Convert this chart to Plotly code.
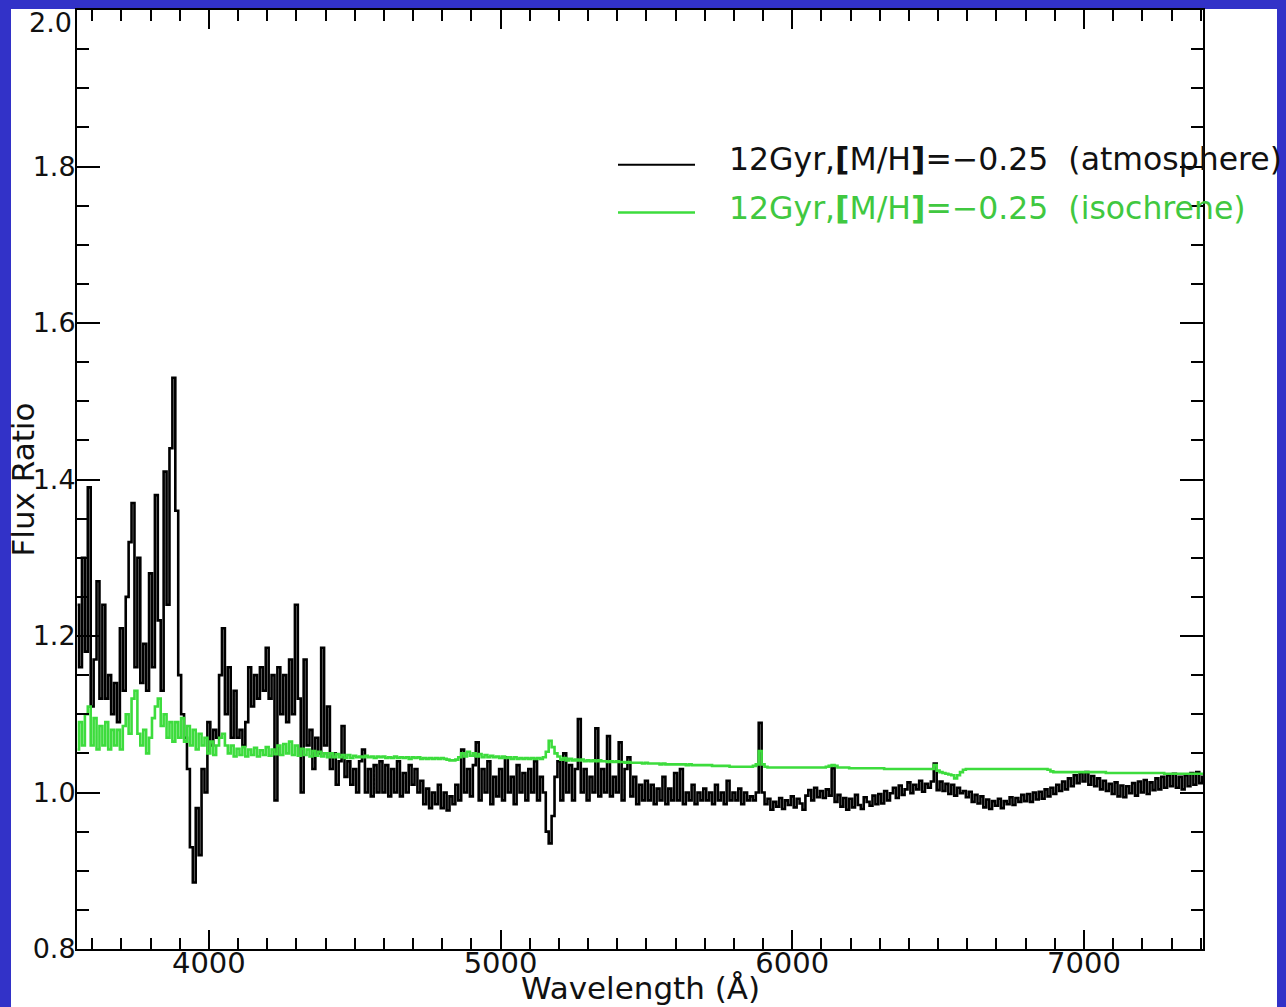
import numpy as np
import plotly.graph_objects as go

# Sampling grid of both spectra (Angstrom)
WAVE_START = 3550
WAVE_STEP = 10

# Flux ratio, 12 Gyr [M/H]=-0.25, atmosphere-based model
flux_atmosphere = [
    1.24, 1.16, 1.30, 1.18, 1.39,                                   # 3550-3590
    1.11, 1.17, 1.27, 1.12, 1.24, 1.12, 1.15, 1.10, 1.14, 1.09,     # 3600
    1.21, 1.13, 1.25, 1.32, 1.37, 1.16, 1.30, 1.14, 1.19, 1.13,     # 3700
    1.28, 1.16, 1.38, 1.22, 1.13, 1.41, 1.24, 1.44, 1.53, 1.36,     # 3800
    1.15, 1.10, 1.07, 1.03, 0.93, 0.885, 0.98, 0.92, 1.03, 1.00,    # 3900
    1.09, 1.06, 1.08, 1.07, 1.15, 1.21, 1.10, 1.16, 1.07, 1.13,     # 4000
    1.07, 1.08, 1.06, 1.09, 1.16, 1.11, 1.15, 1.12, 1.16, 1.13,     # 4100
    1.185, 1.12, 1.15, 0.99, 1.16, 1.10, 1.15, 1.09, 1.17, 1.10,    # 4200
    1.24, 1.12, 1.00, 1.17, 1.06, 1.08, 1.03, 1.07, 1.05, 1.185,    # 4300
    1.06, 1.11, 1.03, 1.05, 1.01, 1.04, 1.085, 1.02, 1.04, 1.01,    # 4400
    1.03, 1.00, 1.04, 1.055, 1.00, 1.03, 0.995, 1.035, 1.00, 1.04,  # 4500
    1.00, 1.035, 0.995, 1.03, 1.00, 1.04, 0.995, 1.025, 1.00, 1.035,  # 4600
    1.01, 1.03, 1.00, 1.015, 0.985, 1.005, 0.98, 1.00, 0.985, 1.01,   # 4700
    0.98, 1.00, 0.977, 0.995, 0.985, 1.01, 0.99, 1.055, 1.00, 1.03,   # 4800
    0.995, 1.035, 1.064, 0.99, 1.03, 1.00, 1.04, 0.985, 1.02, 0.995,  # 4900
    1.03, 0.99, 1.045, 1.00, 1.02, 0.985, 1.035, 1.00, 1.025, 0.99,   # 5000
    1.03, 1.00, 1.04, 0.99, 1.02, 1.00, 0.95, 0.935, 0.97, 1.02,      # 5100
    1.04, 0.99, 1.05, 1.00, 1.035, 0.99, 1.03, 1.094, 1.00, 1.03,     # 5200
    0.99, 1.02, 1.00, 1.082, 0.995, 1.03, 1.00, 1.072, 0.995, 1.02,   # 5300
    1.00, 1.064, 0.99, 1.03, 1.045, 0.995, 1.02, 0.985, 1.01, 0.99,   # 5400
    1.015, 0.99, 1.01, 0.985, 1.005, 0.99, 1.02, 0.985, 1.005, 0.99,  # 5500
    1.025, 0.99, 1.03, 0.985, 1.00, 0.99, 1.01, 0.985, 1.00, 0.99,    # 5600
    1.005, 0.99, 1.00, 0.985, 1.01, 0.99, 1.00, 0.985, 1.015, 0.99,   # 5700
    1.00, 0.99, 1.005, 0.985, 1.00, 0.99, 0.995, 0.99, 1.00, 1.089,   # 5800
    1.00, 0.985, 0.992, 0.978, 0.988, 0.982, 0.993, 0.979, 0.99, 0.984,    # 5900
    0.995, 0.981, 0.992, 0.986, 0.978, 0.996, 1.003, 0.99, 1.006, 0.994,   # 6000
    1.002, 0.993, 1.004, 0.996, 1.031, 0.988, 0.997, 0.982, 0.993, 0.978,  # 6100
    0.992, 0.981, 0.997, 0.984, 0.979, 0.994, 0.988, 0.983, 0.996, 0.985,  # 6200
    0.998, 0.986, 1.002, 0.99, 0.999, 1.006, 0.993, 1.009, 0.997, 1.004,   # 6300
    1.013, 0.999, 1.01, 1.004, 1.015, 1.001, 1.011, 1.006, 1.014, 1.037,   # 6400
    1.003, 1.014, 1.002, 1.011, 0.998, 1.01, 0.996, 1.006, 0.999, 1.002,   # 6500
    0.994, 1.001, 0.988, 0.997, 0.986, 0.995, 0.981, 0.991, 0.979, 0.989,  # 6600
    0.983, 0.992, 0.98, 0.989, 0.985, 0.994, 0.984, 0.993, 0.988, 0.997,   # 6700
    0.989, 0.998, 0.988, 1.00, 0.991, 1.001, 0.992, 1.004, 0.995, 1.006,   # 6800
    0.998, 1.01, 1.002, 1.014, 1.004, 1.018, 1.008, 1.022, 1.012, 1.025,   # 6900
    1.014, 1.026, 1.01, 1.021, 1.008, 1.018, 1.004, 1.015, 1.002, 1.011,   # 7000
    0.998, 1.013, 0.995, 1.009, 0.994, 1.008, 0.999, 1.012, 0.996, 1.014,  # 7100
    1.00, 1.016, 0.998, 1.013, 1.003, 1.018, 1.004, 1.02, 1.006, 1.022,    # 7200
    1.008, 1.024, 1.006, 1.02, 1.004, 1.022, 1.008, 1.025, 1.01, 1.026,    # 7300
    1.012, 1.02,                                                           # 7400-7410
]

# Flux ratio, 12 Gyr [M/H]=-0.25, isochrone-based model
flux_isochrone = [
    1.055, 1.09, 1.06, 1.10, 1.11,                                       # 3550-3590
    1.06, 1.095, 1.055, 1.085, 1.06, 1.09, 1.055, 1.08, 1.06, 1.08,      # 3600
    1.055, 1.085, 1.10, 1.075, 1.12, 1.13, 1.075, 1.06, 1.08, 1.05,      # 3700
    1.07, 1.095, 1.11, 1.12, 1.085, 1.10, 1.07, 1.09, 1.065, 1.09,       # 3800
    1.07, 1.095, 1.065, 1.085, 1.06, 1.08, 1.055, 1.075, 1.06, 1.07,     # 3900
    1.05, 1.065, 1.048, 1.06, 1.07, 1.075, 1.06, 1.05, 1.06, 1.046,      # 4000
    1.056, 1.048, 1.058, 1.046, 1.055, 1.048, 1.057, 1.046, 1.054, 1.048,  # 4100
    1.058, 1.047, 1.055, 1.049, 1.06, 1.048, 1.062, 1.05, 1.065, 1.048,  # 4200
    1.06, 1.047, 1.056, 1.048, 1.055, 1.046, 1.053, 1.047, 1.052, 1.046,  # 4300
    1.05, 1.045, 1.05, 1.045, 1.049, 1.045, 1.048, 1.044, 1.048, 1.044,  # 4400
    1.047, 1.045, 1.046, 1.045, 1.047, 1.045, 1.046, 1.044, 1.046, 1.045,  # 4500
    1.046, 1.044, 1.045, 1.044, 1.046, 1.044, 1.045, 1.044, 1.045, 1.043,  # 4600
    1.045, 1.044, 1.045, 1.043, 1.044, 1.043, 1.044, 1.043, 1.044, 1.043,  # 4700
    1.044, 1.043, 1.042, 1.041, 1.041, 1.042, 1.045, 1.050, 1.046, 1.052,  # 4800
    1.047, 1.050, 1.046, 1.049, 1.045, 1.048, 1.045, 1.047, 1.045, 1.046,  # 4900
    1.044, 1.046, 1.044, 1.045, 1.043, 1.045, 1.043, 1.044, 1.043, 1.044,  # 5000
    1.043, 1.044, 1.043, 1.044, 1.043, 1.045, 1.052, 1.066, 1.058, 1.050,  # 5100
    1.046, 1.042, 1.044, 1.041, 1.043, 1.041, 1.042, 1.041, 1.042, 1.040,  # 5200
    1.041, 1.040, 1.041, 1.040, 1.041, 1.040, 1.040, 1.039, 1.040, 1.039,  # 5300
    1.040, 1.039, 1.039, 1.038, 1.039, 1.038, 1.038, 1.038, 1.038, 1.037,  # 5400
    1.038, 1.037, 1.037, 1.037, 1.037, 1.036, 1.037, 1.036, 1.036, 1.036,  # 5500
    1.036, 1.036, 1.036, 1.036, 1.035, 1.036, 1.035, 1.035, 1.035, 1.035,  # 5600
    1.035, 1.035, 1.035, 1.034, 1.034, 1.034, 1.034, 1.034, 1.034, 1.033,  # 5700
    1.033, 1.033, 1.033, 1.033, 1.033, 1.033, 1.033, 1.034, 1.036, 1.053,  # 5800
    1.036, 1.033, 1.032, 1.032, 1.032, 1.032, 1.032, 1.032, 1.032, 1.032,  # 5900
    1.032, 1.032, 1.032, 1.032, 1.032, 1.032, 1.032, 1.032, 1.032, 1.032,  # 6000
    1.032, 1.032, 1.033, 1.034, 1.035, 1.034, 1.032, 1.032, 1.032, 1.032,  # 6100
    1.031, 1.031, 1.031, 1.031, 1.031, 1.031, 1.031, 1.031, 1.031, 1.031,  # 6200
    1.031, 1.031, 1.030, 1.030, 1.030, 1.030, 1.030, 1.030, 1.030, 1.030,  # 6300
    1.030, 1.030, 1.030, 1.030, 1.030, 1.030, 1.030, 1.030, 1.030, 1.035,  # 6400
    1.028, 1.026, 1.025, 1.024, 1.023, 1.022, 1.018, 1.022, 1.026, 1.029,  # 6500
    1.030, 1.030, 1.030, 1.030, 1.030, 1.030, 1.030, 1.030, 1.030, 1.030,  # 6600
    1.030, 1.030, 1.030, 1.030, 1.030, 1.030, 1.030, 1.030, 1.030, 1.030,  # 6700
    1.030, 1.030, 1.030, 1.030, 1.030, 1.030, 1.030, 1.030, 1.029, 1.027,  # 6800
    1.026, 1.026, 1.026, 1.026, 1.026, 1.026, 1.026, 1.026, 1.026, 1.026,  # 6900
    1.026, 1.026, 1.026, 1.026, 1.026, 1.026, 1.026, 1.026, 1.025, 1.025,  # 7000
    1.025, 1.025, 1.025, 1.025, 1.025, 1.025, 1.025, 1.025, 1.025, 1.025,  # 7100
    1.025, 1.025, 1.025, 1.025, 1.025, 1.025, 1.025, 1.025, 1.024, 1.024,  # 7200
    1.024, 1.024, 1.024, 1.024, 1.024, 1.024, 1.024, 1.024, 1.024, 1.024,  # 7300
    1.024, 1.024,                                                          # 7400-7410
]

wavelength = WAVE_START + WAVE_STEP * np.arange(len(flux_atmosphere))

y_tick_values = [0.8, 1.0, 1.2, 1.4, 1.6, 1.8]
y_tick_labels = ["0.8", "1.0", "1.2", "1.4", "1.6", "1.8"]

series_labels = [
    "12Gyr,<b>[</b>M/H<b>]</b>=\u22120.25\u00a0 (atmosphere)",
    "12Gyr,<b>[</b>M/H<b>]</b>=\u22120.25\u00a0 (isochrene)",
]

BLACK = "#000000"
GREEN = "#3ddc3d"
GREEN_TEXT = "#40c840"
TEXT = "#111111"
SLIDE_BLUE = "#3232c8"
FONT = "DejaVu Sans"

# page and plot-frame geometry (pixels)
W, H = 1286, 1007
L, R, T, B = 77, 1203, 8, 949


def fx(x):
    return (x - L) / (R - L)


def fy(y):
    return (B - y) / (B - T)


fig = go.Figure()
fig.add_trace(go.Scatter(
    x=wavelength, y=flux_atmosphere, mode="lines", line_shape="hvh",
    line=dict(color=BLACK, width=2.6), name="atmosphere",
))
fig.add_trace(go.Scatter(
    x=wavelength, y=flux_isochrone, mode="lines", line_shape="hvh",
    line=dict(color=GREEN, width=2.6), name="isochrene",
))

axis_common = dict(
    showline=True, linecolor="black", linewidth=2, mirror="ticks",
    ticks="inside", tickwidth=2, tickcolor="black",
    showgrid=False, zeroline=False,
)

fig.update_xaxes(
    range=[3548, 7408], tick0=0, dtick=1000, ticklen=19,
    ticklabelstandoff=-13,
    tickfont=dict(family=FONT, size=29, color=TEXT),
    minor=dict(dtick=100, ticks="inside", ticklen=11, tickwidth=2,
               tickcolor="black", showgrid=False),
    **axis_common,
)
fig.update_yaxes(
    range=[0.8, 2.0], tickmode="array", tickvals=y_tick_values,
    ticktext=y_tick_labels, ticklen=23, ticklabelstandoff=-6,
    tickfont=dict(family=FONT, size=27, color=TEXT),
    minor=dict(tickmode="linear", tick0=0.8, dtick=0.05, ticks="inside",
               ticklen=12, tickwidth=2, tickcolor="black", showgrid=False),
    **axis_common,
)

shapes = [
    # white slide panel behind the plot
    dict(type="rect", xref="paper", yref="paper", layer="below",
         x0=fx(11), x1=fx(1277), y0=fy(1012), y1=fy(7),
         fillcolor="white", line=dict(width=0)),
    # legend line samples
    dict(type="line", xref="paper", yref="paper",
         x0=fx(618), x1=fx(695), y0=fy(163), y1=fy(163),
         line=dict(color=BLACK, width=2)),
    dict(type="line", xref="paper", yref="paper",
         x0=fx(618), x1=fx(695), y0=fy(211), y1=fy(211),
         line=dict(color=GREEN, width=2.5)),
]

annotations = [
    dict(text="2.0", xref="paper", yref="paper", x=fx(74), y=fy(21),
         xanchor="right", yanchor="middle", showarrow=False,
         font=dict(family=FONT, size=27, color=TEXT)),
    dict(text="Wavelength (\u00c5)", xref="paper", yref="paper",
         x=0.5, y=fy(988), xanchor="center", yanchor="middle",
         showarrow=False, font=dict(family=FONT, size=31, color=TEXT)),
    dict(text="Flux Ratio", xref="paper", yref="paper", textangle=-90,
         x=fx(22), y=0.5, xanchor="center", yanchor="middle",
         showarrow=False, font=dict(family=FONT, size=31, color=TEXT)),
    dict(text=series_labels[0], xref="paper", yref="paper",
         x=fx(727), y=fy(157), xanchor="left", yanchor="middle",
         showarrow=False, font=dict(family=FONT, size=31.5, color=TEXT)),
    dict(text=series_labels[1], xref="paper", yref="paper",
         x=fx(727), y=fy(206), xanchor="left", yanchor="middle",
         showarrow=False, font=dict(family=FONT, size=31.5, color=GREEN_TEXT)),
]

fig.update_layout(
    width=W, height=H,
    margin=dict(l=L, r=W - R, t=T, b=H - B, pad=0),
    paper_bgcolor=SLIDE_BLUE, plot_bgcolor="white",
    showlegend=False, shapes=shapes, annotations=annotations,
)

fig.write_html("out.html")
